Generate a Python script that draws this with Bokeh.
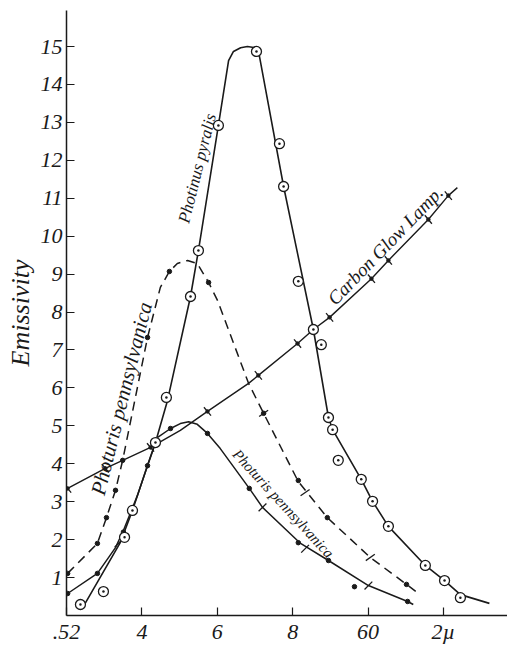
from bokeh.plotting import figure
from bokeh.models import Range1d, LinearAxis, FixedTicker, ColumnDataSource
from bokeh.core.properties import value
from bokeh.embed import file_html
from bokeh.resources import INLINE

# Wavelength axis (microns) and emissivity axis
x_ticks = [0.52, 0.54, 0.56, 0.58, 0.60, 0.62]
x_tick_labels = [".52", "4", "6", "8", "60", "2µ"]
y_ticks = [1, 2, 3, 4, 5, 6, 7, 8, 9, 10, 11, 12, 13, 14, 15]
y_tick_labels = [str(v) for v in y_ticks]

# Photinus pyralis: drawn curve and observed points
photinus_curve_x = [0.5243, 0.5343, 0.5375, 0.5415, 0.5436, 0.5468, 0.5529, 0.5550, 0.5603,
                    0.5630, 0.5643, 0.5662, 0.5680, 0.5701, 0.5709, 0.5776, 0.5855, 0.5895,
                    0.5906, 0.5982, 0.6012, 0.6054, 0.6152, 0.6203, 0.6245, 0.6322]
photinus_curve_y = [0.21, 1.93, 2.77, 3.96, 4.56, 5.67, 8.41, 9.62, 12.92,
                    14.63, 14.87, 14.97, 15.00, 14.97, 14.90, 11.31, 7.54, 5.22,
                    4.90, 3.59, 3.01, 2.35, 1.32, 0.92, 0.55, 0.32]
photinus_obs_x = [0.5237, 0.5298, 0.5354, 0.5375, 0.5436, 0.5465, 0.5529, 0.5550, 0.5603,
                  0.5704, 0.5765, 0.5776, 0.5815, 0.5855, 0.5876, 0.5895, 0.5906, 0.5921,
                  0.5982, 0.6012, 0.6054, 0.6152, 0.6203, 0.6245]
photinus_obs_y = [0.29, 0.63, 2.06, 2.77, 4.56, 5.75, 8.41, 9.62, 12.92,
                  14.87, 12.44, 11.31, 8.81, 7.54, 7.14, 5.22, 4.90, 4.09,
                  3.59, 3.01, 2.35, 1.32, 0.92, 0.47]

# Photuris pennsylvanica, broken curve
photuris_a_curve_x = [0.5203, 0.5282, 0.5306, 0.5330, 0.5349, 0.5415, 0.5449, 0.5473, 0.5494,
                      0.5521, 0.5547, 0.5577, 0.5601, 0.5683, 0.5723, 0.5815, 0.5892, 0.6006,
                      0.6102, 0.6134]
photuris_a_curve_y = [1.11, 1.90, 2.58, 3.30, 4.09, 7.33, 8.65, 9.07, 9.28,
                      9.36, 9.28, 8.78, 8.30, 6.12, 5.33, 3.53, 2.58, 1.53,
                      0.82, 0.58]
photuris_a_dots_x = [0.5203, 0.5282, 0.5306, 0.5330, 0.5349, 0.5415, 0.5473, 0.5577,
                     0.5723, 0.5815, 0.5892, 0.6102]
photuris_a_dots_y = [1.11, 1.90, 2.58, 3.30, 4.09, 7.33, 9.07, 8.78,
                     5.33, 3.56, 2.58, 0.82]
photuris_a_marks_x = [0.5723, 0.5833, 0.6006]
photuris_a_marks_y = [5.33, 3.24, 1.53]

# Photuris pennsylvanica, full curve
photuris_b_curve_x = [0.5203, 0.5282, 0.5330, 0.5351, 0.5388, 0.5415, 0.5441, 0.5476, 0.5502,
                      0.5524, 0.5547, 0.5574, 0.5608, 0.5685, 0.5720, 0.5821, 0.5895, 0.6001,
                      0.6105, 0.6120]
photuris_b_curve_y = [0.58, 1.11, 1.79, 2.24, 3.16, 3.95, 4.69, 4.93, 5.06,
                      5.11, 5.04, 4.80, 4.40, 3.35, 2.85, 1.90, 1.45, 0.79,
                      0.37, 0.29]
photuris_b_dots_x = [0.5203, 0.5282, 0.5351, 0.5415, 0.5476, 0.5574, 0.5685, 0.5815,
                     0.5895, 0.5964, 0.6105]
photuris_b_dots_y = [0.58, 1.11, 2.20, 3.95, 4.93, 4.80, 3.35, 1.92,
                     1.45, 0.76, 0.37]
photuris_b_marks_x = [0.5338, 0.5720, 0.5833, 0.6001]
photuris_b_marks_y = [1.90, 2.85, 1.76, 0.79]

# Carbon glow lamp
carbon_curve_x = [0.5203, 0.5303, 0.5349, 0.5423, 0.5502, 0.5574, 0.5683, 0.5709, 0.5813,
                  0.5855, 0.5898, 0.6009, 0.6054, 0.6160, 0.6213, 0.6237]
carbon_curve_y = [3.35, 3.88, 4.09, 4.43, 4.88, 5.38, 6.12, 6.33, 7.17,
                  7.54, 7.86, 8.88, 9.36, 10.44, 11.07, 11.28]
carbon_marks_x = [0.5203, 0.5303, 0.5423, 0.5574, 0.5709, 0.5813, 0.5898, 0.6009, 0.6054,
                  0.6160, 0.6213]
carbon_marks_y = [3.35, 3.88, 4.43, 5.38, 6.33, 7.17, 7.86, 8.88, 9.36,
                  10.44, 11.07]

# Curve names written along the curves
curve_names = ["Photinus pyralis", "Photuris pennsylvanica", "Carbon Glow Lamp.",
               "Photuris pennsylvanica"]
name_x = [0.5547, 0.5346, 0.6046, 0.5775]
name_y = [11.79, 5.72, 9.76, 2.95]
name_angle = [76, 76, 46, -47.5]
name_size = ["17px", "21px", "19px", "15px"]

HAND = "'Liberation Serif'"
INK = "#1a1a1a"

p = figure(width=507, height=647, x_range=Range1d(0.52, 0.637), y_range=Range1d(0, 15.95),
           output_backend="svg", toolbar_location=None, x_axis_type=None, y_axis_type=None,
           min_border_left=66, min_border_right=0, min_border_top=10, min_border_bottom=32)
p.outline_line_color = None
p.xgrid.visible = False
p.ygrid.visible = False
p.background_fill_color = "white"
p.border_fill_color = "white"

xaxis = LinearAxis(ticker=FixedTicker(ticks=x_ticks),
                   major_label_overrides={t: s for t, s in zip(x_ticks, x_tick_labels)})
yaxis = LinearAxis(ticker=FixedTicker(ticks=y_ticks),
                   major_label_overrides={t: s for t, s in zip(y_ticks, y_tick_labels)},
                   axis_label="Emissivity")
for ax in (xaxis, yaxis):
    ax.axis_line_color = INK
    ax.axis_line_width = 1.5
    ax.major_tick_in = 8
    ax.major_tick_out = 0
    ax.major_tick_line_color = INK
    ax.major_tick_line_width = 1.2
    ax.minor_tick_line_color = None
    ax.major_label_text_font = HAND
    ax.major_label_text_font_style = "italic"
    ax.major_label_text_font_size = "22px"
    ax.major_label_text_color = INK
xaxis.major_label_standoff = 3
yaxis.major_label_standoff = 4
yaxis.axis_label_standoff = 3
yaxis.axis_label_text_font = HAND
yaxis.axis_label_text_font_style = "italic"
yaxis.axis_label_text_font_size = "26px"
yaxis.axis_label_text_color = INK
p.add_layout(xaxis, "below")
p.add_layout(yaxis, "left")

# curves
p.line(photinus_curve_x, photinus_curve_y, line_color=INK, line_width=1.6)
p.line(photuris_a_curve_x, photuris_a_curve_y, line_color=INK, line_width=1.5, line_dash="9 6")
p.line(photuris_b_curve_x, photuris_b_curve_y, line_color=INK, line_width=1.5)
p.line(carbon_curve_x, carbon_curve_y, line_color=INK, line_width=1.4)

# observation marks
p.scatter(carbon_marks_x, carbon_marks_y, marker="dash", size=11, angle=-50, angle_units="deg",
          line_color=INK, line_width=1.3)
p.scatter(carbon_marks_x, carbon_marks_y, marker="circle", size=3.5, fill_color=INK, line_color=INK)
p.scatter(photuris_a_marks_x, photuris_a_marks_y, marker="dash", size=11, angle=35, angle_units="deg",
          line_color=INK, line_width=1.3)
p.scatter(photuris_a_dots_x, photuris_a_dots_y, marker="circle", size=4.5, fill_color=INK, line_color=INK)
p.scatter(photuris_b_marks_x, photuris_b_marks_y, marker="dash", size=11, angle=45, angle_units="deg",
          line_color=INK, line_width=1.3)
p.scatter(photuris_b_dots_x, photuris_b_dots_y, marker="circle", size=4.5, fill_color=INK, line_color=INK)
p.scatter(photinus_obs_x, photinus_obs_y, marker="circle_dot", size=10, fill_color="white",
          line_color=INK, line_width=1.3)

# curve names
names = ColumnDataSource(dict(x=name_x, y=name_y, text=curve_names, angle=name_angle, size=name_size))
p.text(x="x", y="y", text="text", angle="angle", angle_units="deg", source=names,
       text_font=value(HAND), text_font_style="italic", text_font_size="size",
       text_align="center", text_baseline="middle", text_color=INK)

open("out.html", "w").write(file_html(p, INLINE))
